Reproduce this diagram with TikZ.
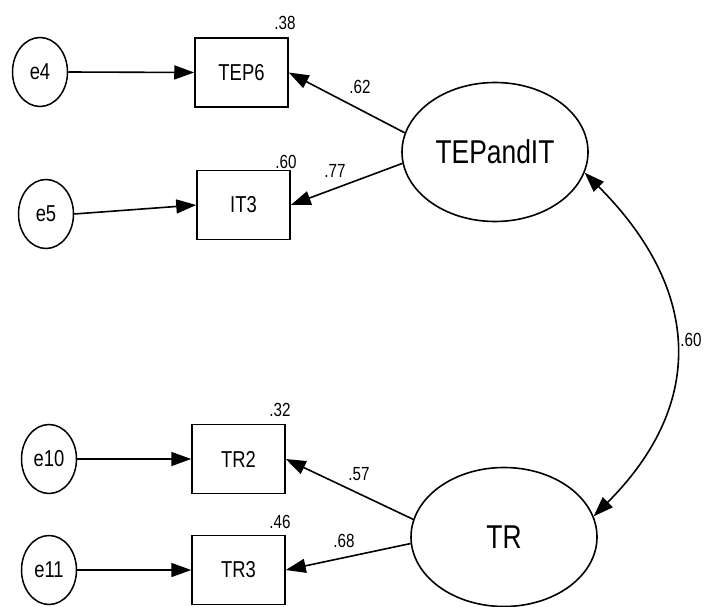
\documentclass[tikz,border=0pt]{standalone}
\usepackage{fontspec}
\setmainfont{Liberation Sans}[FakeStretch=0.8]
\usetikzlibrary{arrows.meta,shapes.geometric}

\tikzset{
  obs/.style={draw, line width=1.5pt, rectangle, minimum width=93pt, minimum height=69pt,
    inner sep=0pt, font=\fontsize{23}{25}\selectfont},
  err/.style={draw, line width=1.5pt, ellipse, minimum width=55pt, minimum height=69pt,
    inner sep=0pt, font=\fontsize{23}{25}\selectfont},
  lat/.style={draw, line width=1.6pt, ellipse, minimum width=186pt, minimum height=139pt,
    inner sep=0pt, font=\fontsize{33}{36}\selectfont},
  coef/.style={font=\fontsize{19}{21}\selectfont, inner sep=0pt},
  path/.style={line width=1.6pt, -{Triangle[length=20pt,width=14pt]}},
  cov/.style={line width=1.6pt, {Triangle[length=20pt,width=14pt]}-{Triangle[length=20pt,width=14pt]}}
}

\begin{document}
\begin{tikzpicture}[x=1pt,y=1pt]
\useasboundingbox (0,0) rectangle (708,606);

% error terms
\node[err] (e4)  at (40,534)  {e4};
\node[err] (e5)  at (46,392)  {e5};
\node[err] (e10) at (49,147)  {e10};
\node[err] (e11) at (49,36)   {e11};

% observed indicators
\node[obs] (TEP6) at (241.5,533.5) {TEP6};
\node[obs] (IT3)  at (243.5,401)   {IT3};
\node[obs] (TR2)  at (238.5,147)   {TR2};
\node[obs] (TR3)  at (238.5,36)    {TR3};

% latent factors
\node[lat] (TEPandIT) at (495,454) {TEPandIT};
\node[lat] (TR)       at (504,69)  {TR};

% squared multiple correlations
\node[coef] (r1) at (285,583) {.38};
\node[coef] (r2) at (286,444) {.60};
\node[coef] (r3) at (280,196) {.32};
\node[coef] (r4) at (280,84)  {.46};

% error paths
\draw[path] (e4.east) -- (TEP6.west);
\draw[path] (e5.east) -- (IT3.west);
\draw[path] (e10.east) -- (TR2.west);
\draw[path] (e11.east) -- (TR3.west);

% loadings
\draw[path] (TEPandIT.168) -- (TEP6.east);
\draw[path] (TEPandIT.187) -- (IT3.east);
\draw[path] (TR.169) -- (TR2.east);
\draw[path] (TR.184) -- (TR3.east);

\node[coef] (l1) at (360,519) {.62};
\node[coef] (l2) at (335,435) {.77};
\node[coef] (l3) at (359,132) {.57};
\node[coef] (l4) at (344,65)  {.68};

% factor covariance
\draw[cov] (TEPandIT.347) .. controls +(-45:162) and +(45:162) .. (TR.13.5);
\node[coef] (c1) at (691,266) {.60};
\end{tikzpicture}
\end{document}
